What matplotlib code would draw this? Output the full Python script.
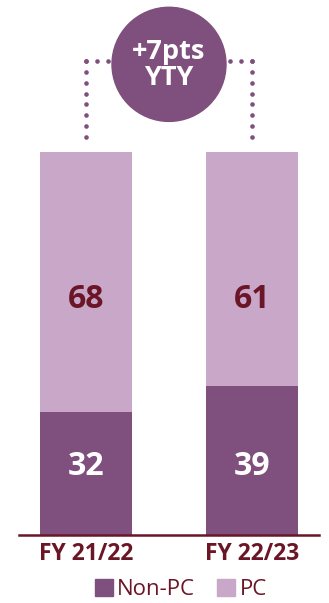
import numpy as np
import matplotlib.pyplot as plt
from matplotlib.patches import Ellipse, Patch

years = ["FY 21/22", "FY 22/23"]
non_pc = [32, 39]
pc = [68, 61]
change_label = "+7pts\nYTY"

dark = "#7f4f7d"
light = "#c9a7c8"
maroon = "#6b1627"
font = "Open Sans"

fig = plt.figure(figsize=(3.29, 6.03), dpi=100)
ax = fig.add_axes([19 / 329, 1 - 535 / 603, 300 / 329, 535 / 603])

x = list(range(len(years)))
ax.bar(x, non_pc, width=0.554, color=dark)
ax.bar(x, pc, width=0.554, bottom=non_pc, color=light)

for i in x:
    ax.text(i, 18, str(non_pc[i]), ha="center", va="center", color="white",
            fontsize=23, fontweight="bold", family=font)
    ax.text(i, 61.4, str(pc[i]), ha="center", va="center", color=maroon,
            fontsize=23, fontweight="bold", family=font)

ax.set_xlim(-0.404, 1.404)
ax.set_ylim(0, 139.7)

# dotted bracket drawn as round markers, corner dot included
top = 123.7
vy = top - 2.82 * np.arange(8)
hx = 0.066 * np.arange(4)
for i in x:
    sign = 1 if i < 0.5 else -1
    ax.plot(np.full(len(vy), i), vy, "o", color=dark, markersize=3.3, markeredgewidth=0)
    ax.plot(i + sign * hx, np.full(len(hx), top), "o", color=dark, markersize=3.3,
            markeredgewidth=0)
ax.add_patch(Ellipse((0.5, 122.9), width=0.687, height=29.8, color=dark, zorder=3))
ax.text(0.5, 122.6, change_label, ha="center", va="center", color="white",
        fontsize=19.5, fontweight="bold", family=font, linespacing=1.0, zorder=4)

for side in ["top", "left", "right"]:
    ax.spines[side].set_visible(False)
ax.spines["bottom"].set_color(maroon)
ax.spines["bottom"].set_linewidth(1.8)
ax.set_yticks([])
ax.set_xticks(x)
ax.set_xticklabels(years, fontsize=16.5, fontweight="bold", color=maroon, family=font)
ax.tick_params(axis="x", length=0, pad=5)

handles = [Patch(color=dark, label="Non-PC"), Patch(color=light, label="PC")]
leg = fig.legend(handles=handles, loc="center", bbox_to_anchor=(0.55, 0.022), ncol=2,
                 frameon=False, handlelength=0.8, handleheight=0.8, handletextpad=0.2,
                 columnspacing=1.0, prop={"family": font, "size": 16})
for t in leg.get_texts():
    t.set_color(maroon)

fig.savefig("out.png", dpi=100)
